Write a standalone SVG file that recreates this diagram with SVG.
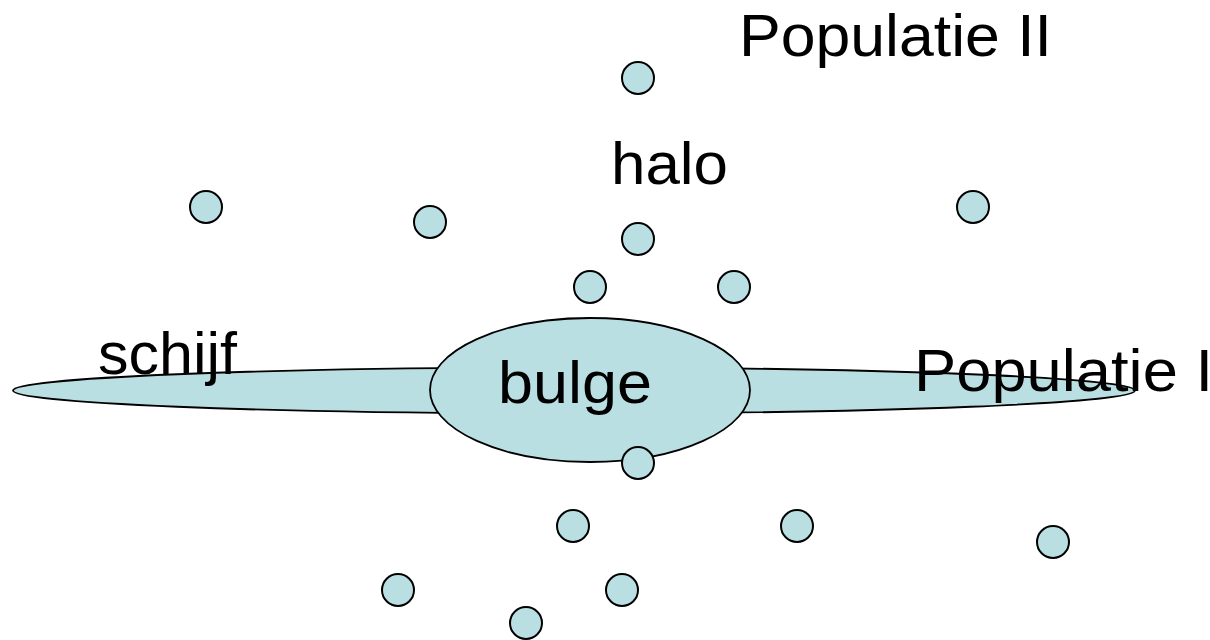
<svg xmlns="http://www.w3.org/2000/svg" width="1210" height="640" viewBox="0 0 1210 640">
  <style>
    .body { fill: #BADFE3; stroke: #000; stroke-width: 1.8; }
    .star { fill: #BADFE3; stroke: #000; stroke-width: 2; }
    .lbl { font-family: "Liberation Sans", Arial, sans-serif; font-size: 59px; fill: #000; }
  </style>
  <rect width="1210" height="640" fill="#fff"/>

  <!-- galactic disk -->
  <g id="schijf">
    <ellipse class="body" cx="574" cy="390.5" rx="561" ry="23"/>
  </g>

  <!-- central bulge -->
  <g id="bulge">
    <ellipse class="body" cx="590" cy="390" rx="160" ry="72"/>
  </g>

  <!-- halo stars (globular clusters) -->
  <g id="halo-stars">
    <circle class="star" cx="638" cy="78" r="16"/>
    <circle class="star" cx="206" cy="207" r="16"/>
    <circle class="star" cx="430" cy="222" r="16"/>
    <circle class="star" cx="973" cy="207" r="16"/>
    <circle class="star" cx="638" cy="239" r="16"/>
    <circle class="star" cx="590" cy="287" r="16"/>
    <circle class="star" cx="734" cy="287" r="16"/>
    <circle class="star" cx="638" cy="463" r="16"/>
    <circle class="star" cx="573" cy="526" r="16"/>
    <circle class="star" cx="797" cy="526" r="16"/>
    <circle class="star" cx="1053" cy="542" r="16"/>
    <circle class="star" cx="398" cy="590" r="16"/>
    <circle class="star" cx="622" cy="590" r="16"/>
    <circle class="star" cx="526" cy="623" r="16"/>
  </g>

  <!-- labels (slightly widened glyphs) -->
  <g id="labels">
    <text class="lbl" x="739" y="56" textLength="313" lengthAdjust="spacingAndGlyphs">Populatie II</text>
    <text class="lbl" x="611" y="184" textLength="117" lengthAdjust="spacingAndGlyphs">halo</text>
    <text class="lbl" x="98" y="374" textLength="139" lengthAdjust="spacingAndGlyphs">schijf</text>
    <text class="lbl" x="498" y="403" textLength="154" lengthAdjust="spacingAndGlyphs">bulge</text>
    <text class="lbl" x="914" y="391" textLength="299" lengthAdjust="spacingAndGlyphs">Populatie I</text>
  </g>
</svg>
